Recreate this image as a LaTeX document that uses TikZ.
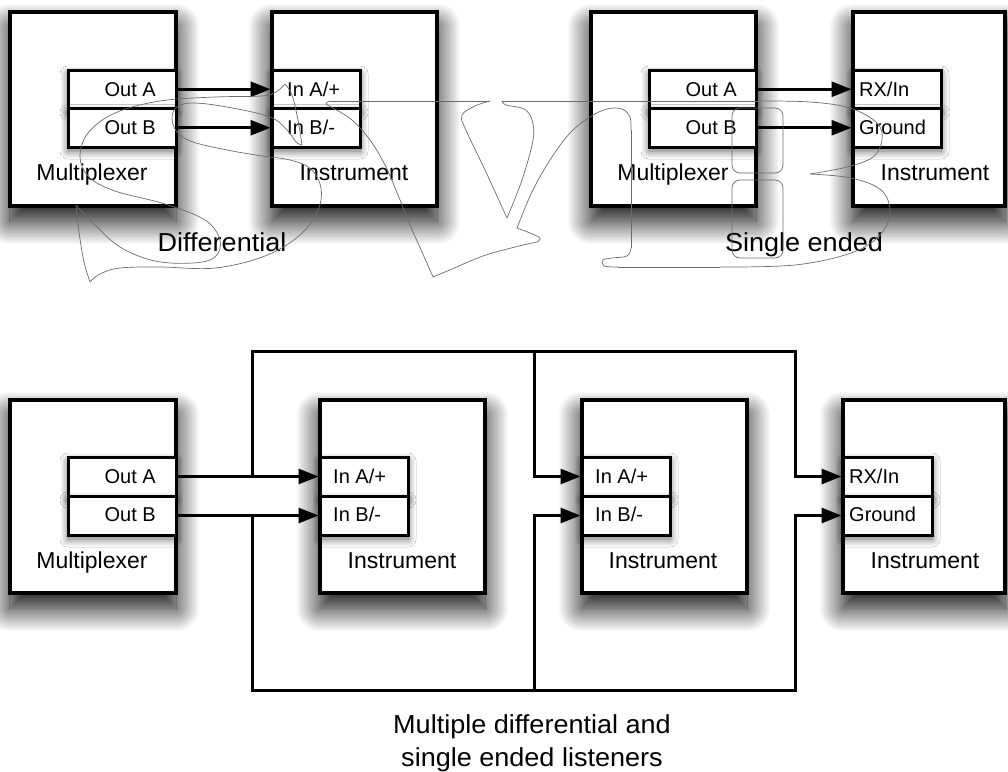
\documentclass[tikz,border=0pt]{standalone}
\usepackage{fontspec}
\setmainfont{Liberation Sans}
\usetikzlibrary{arrows.meta,shadows.blur}
\begin{document}
\begin{tikzpicture}[x=1pt,y=-1pt,
  box/.style={draw, line width=4pt, fill=white, rectangle, inner sep=0pt,
    blur shadow={shadow xshift=0pt, shadow yshift=-15pt, shadow blur radius=24pt, shadow opacity=100, shadow blur steps=30}},
  port/.style={draw, line width=3pt, fill=white, rectangle, inner sep=0pt,
    blur shadow={shadow xshift=0pt, shadow yshift=-4pt, shadow blur radius=8pt, shadow opacity=60, shadow blur steps=16}},
  plab/.style={font=\fontsize{20}{24}\selectfont, inner sep=0pt},
  blab/.style={font=\fontsize{23}{28}\selectfont, inner sep=0pt, anchor=base},
  glab/.style={font=\fontsize{26}{30}\selectfont, inner sep=0pt, anchor=base},
  arr/.style={line width=3pt, line join=miter, -{Triangle[length=20pt,width=15pt]}},
  wm/.style={draw=black!58, line width=0.7pt}]
\useasboundingbox (0,0) rectangle (1008,771);

% ---------- top left: differential ----------
\node[box, minimum width=166pt, minimum height=194pt] (m1) at (93,109) {};
\node[port, minimum width=108pt, minimum height=38.5pt] (m1a) at (122,89.25) {};
\node[port, minimum width=108pt, minimum height=38.5pt] (m1b) at (122,127.75) {};
\node[box, minimum width=165pt, minimum height=194pt] (i1) at (354.5,109) {};
\node[port, minimum width=88pt, minimum height=38.5pt] (i1a) at (316,89.25) {};
\node[port, minimum width=88pt, minimum height=38.5pt] (i1b) at (316,127.75) {};

% ---------- top right: single ended ----------
\node[box, minimum width=165pt, minimum height=194pt] (m2) at (673.5,109) {};
\node[port, minimum width=107pt, minimum height=38.5pt] (m2a) at (702.5,89.25) {};
\node[port, minimum width=107pt, minimum height=38.5pt] (m2b) at (702.5,127.75) {};
\node[box, minimum width=152pt, minimum height=194pt] (i2) at (929,109) {};
\node[port, minimum width=88pt, minimum height=38.5pt] (i2a) at (897,89.25) {};
\node[port, minimum width=88pt, minimum height=38.5pt] (i2b) at (897,127.75) {};

% ---------- bottom ----------
\node[box, minimum width=166pt, minimum height=193pt] (m3) at (93,496.5) {};
\node[port, minimum width=108pt, minimum height=39pt] (m3a) at (122,476.5) {};
\node[port, minimum width=108pt, minimum height=39pt] (m3b) at (122,515.5) {};
\node[box, minimum width=165pt, minimum height=193pt] (i3) at (402.5,496.5) {};
\node[port, minimum width=88pt, minimum height=39pt] (i3a) at (364,476.5) {};
\node[port, minimum width=88pt, minimum height=39pt] (i3b) at (364,515.5) {};
\node[box, minimum width=165pt, minimum height=193pt] (i4) at (664.5,496.5) {};
\node[port, minimum width=88pt, minimum height=39pt] (i4a) at (626,476.5) {};
\node[port, minimum width=88pt, minimum height=39pt] (i4b) at (626,515.5) {};
\node[box, minimum width=162pt, minimum height=193pt] (i5) at (924,496.5) {};
\node[port, minimum width=89pt, minimum height=39pt] (i5a) at (887.5,476.5) {};
\node[port, minimum width=89pt, minimum height=39pt] (i5b) at (887.5,515.5) {};

% ---------- labels ----------
\node[plab, anchor=base east] (t1) at (156,96) {Out A};
\node[plab, anchor=base east] (t2) at (156,134) {Out B};
\node[plab, anchor=base west] (t3) at (287,96) {In A/+};
\node[plab, anchor=base west] (t4) at (287,134) {In B/-};
\node[plab, anchor=base east] (t5) at (737,96) {Out A};
\node[plab, anchor=base east] (t6) at (737,134) {Out B};
\node[plab, anchor=base west] (t7) at (859,96) {RX/In};
\node[plab, anchor=base west] (t8) at (859,134) {Ground};
\node[blab] (l1) at (92,180) {Multiplexer};
\node[blab] (l2) at (354,180) {Instrument};
\node[blab] (l3) at (673,180) {Multiplexer};
\node[blab] (l4) at (935,180) {Instrument};
\node[glab] (g1) at (222,251) {\scalebox{1.04}[1]{Differential}};
\node[glab] (g2) at (804,251) {\scalebox{1.04}[1]{Single ended}};

\node[plab, anchor=base east] (b1) at (156,483) {Out A};
\node[plab, anchor=base east] (b2) at (156,521) {Out B};
\node[plab, anchor=base west] (b3) at (333,483) {In A/+};
\node[plab, anchor=base west] (b4) at (333,521) {In B/-};
\node[plab, anchor=base west] (b5) at (595,483) {In A/+};
\node[plab, anchor=base west] (b6) at (595,521) {In B/-};
\node[plab, anchor=base west] (b7) at (849,483) {RX/In};
\node[plab, anchor=base west] (b8) at (849,521) {Ground};
\node[blab] (l5) at (92,568) {Multiplexer};
\node[blab] (l6) at (402,568) {Instrument};
\node[blab] (l7) at (663,568) {Instrument};
\node[blab] (l8) at (925,568) {Instrument};
\node[glab] (c1) at (532,733) {\scalebox{1.04}[1]{Multiple differential and}};
\node[glab] (c2) at (532,766) {\scalebox{1.04}[1]{single ended listeners}};

% ---------- connectors ----------
\draw[arr] (m1a.east) -- (i1a.west);
\draw[arr] (m1b.east) -- (i1b.west);
\draw[arr] (m2a.east) -- (i2a.west);
\draw[arr] (m2b.east) -- (i2b.west);
\draw[arr] (m3a.east) -- (i3a.west);
\draw[arr] (m3b.east) -- (i3b.west);

\coordinate (bTL) at (252,351);
\coordinate (bTM) at (534,351);
\coordinate (bTR) at (795,351);
\coordinate (bBL) at (252,690);
\coordinate (bBM) at (534,690);
\coordinate (bBR) at (795,690);
\draw[arr] (bTL |- m3a.east) -- (bTL) -- (bTR) -- (bTR |- i5a.west) -- (i5a.west);
\draw[arr] (bTM) -- (bTM |- i4a.west) -- (i4a.west);
\draw[arr] (bBL |- m3b.east) -- (bBL) -- (bBR) -- (bBR |- i5b.west) -- (i5b.west);
\draw[arr] (bBM) -- (bBM |- i4b.west) -- (i4b.west);

% ---------- SVB watermark ----------
\draw[wm] plot[smooth, tension=0.6] coordinates {(285,84) (292,95) (298,120) (302,145)};
\draw[wm] plot[smooth, tension=0.6] coordinates {(302,145) (296,142) (287,130) (270,117) (227,107) (193,103) (177,107) (172,118) (177,132) (193,142) (227,150) (262,156) (290,160) (311,169) (321,188) (318,210) (300,235) (265,256) (215,268) (160,267) (120,268) (100,274) (90,282)};
\draw[wm] plot[smooth, tension=0.6] coordinates {(90,282) (84,262) (79,232) (76,205)};
\draw[wm] plot[smooth, tension=0.6] coordinates {(76,205) (93,223) (120,247) (155,261) (193,263) (215,257) (220,240) (205,220) (165,204) (115,191) (89,177) (80,157) (88,133) (115,113) (160,101) (215,97) (262,96) (276,92) (285,84)};
\draw[wm] (490,101) -- (330,101);
\draw[wm] plot[smooth, tension=0.6] coordinates {(330,101) (326,104) (333,108) (352,120) (370,140) (385,165) (398,195) (410,225) (422,252) (433,277)};
\draw[wm] plot[smooth, tension=0.6] coordinates {(433,277) (452,269) (483,256) (515,247) (537,242)};
\draw[wm] plot[smooth, tension=0.6] coordinates {(537,242) (540,238) (530,233) (517,228)};
\draw[wm] plot[smooth, tension=0.6] coordinates {(517,228) (532,192) (550,160) (570,133) (590,117) (607,109) (622,109) (630,117) (631,130)};
\draw[wm] (631,130) -- (631,248);
\draw[wm] plot[smooth, tension=0.6] coordinates {(631,248) (627,256) (612,258) (603,260) (604,266) (618,267)};
\draw[wm] (618,267) -- (720,267);
\draw[wm] plot[smooth, tension=0.6] coordinates {(720,267) (795,265) (851,253) (880,235) (890,212) (881,190) (851,178) (810,174)};
\draw[wm] plot[smooth, tension=0.6] coordinates {(810,174) (847,167) (873,157) (882,140) (877,123) (850,108) (810,102) (760,101)};
\draw[wm] (760,101) -- (502,101);
\draw[wm] plot[smooth, tension=0.6] coordinates {(502,101) (506,105) (524,109) (532,120) (533,140) (522,180) (507,218)};
\draw[wm] plot[smooth, tension=0.6] coordinates {(507,218) (485,170) (465,128) (462,115) (475,106) (490,101)};
\draw[wm, rounded corners=8pt] (732,108) rectangle (783,173);
\draw[wm, rounded corners=8pt] (732,180) rectangle (783,258);
\end{tikzpicture}
\end{document}
